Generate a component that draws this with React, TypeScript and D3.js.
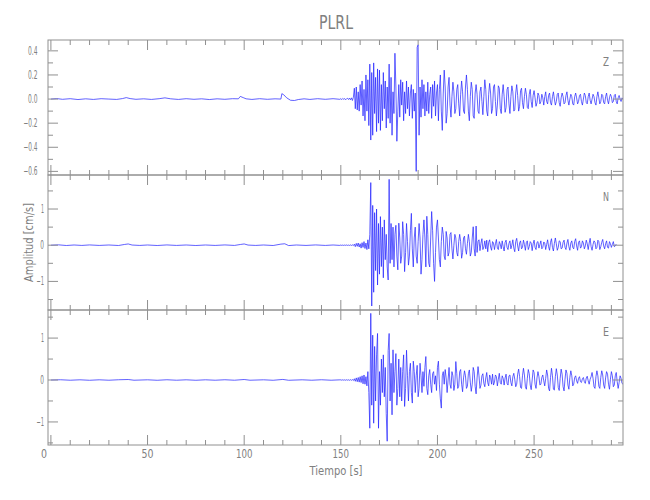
import React from 'react';
import * as d3 from 'd3';

// ---------- data ----------
const TITLE = 'PLRL';
const X_LABEL = 'Tiempo [s]';
const Y_LABEL = 'Amplitud [cm/s]';
const X_MAJOR_TICKS = [0, 50, 100, 150, 200, 250];
const Z_TICKS = [0.4, 0.2, 0.0, -0.2, -0.4, -0.6];
const NE_TICKS = [1, 0, -1];

// samples after t = 150 s, every 0.5 s
const SAMPLE_START = 150;
const SAMPLE_STEP = 0.5;

// pre-event [time, value] readings
const Z_PRE: [number, number][] = [
  [0, 0], [3, 0.004], [6, -0.002], [10, 0.003], [14, -0.004], [18, 0.002], [22, -0.003], [26, 0.003],
  [30, 0.0], [34, -0.003], [37, 0.004], [39, 0.012], [41, 0.004], [44, -0.002], [48, 0.002], [52, -0.003],
  [56, 0.003], [59, 0.01], [62, 0.002], [66, -0.003], [70, 0.003], [74, -0.002], [78, 0.002], [82, -0.004],
  [86, 0.002], [90, -0.002], [94, 0.003], [97, 0.002], [98, 0.022], [99.5, 0.012], [101, 0.002], [104, -0.003],
  [108, 0.003], [112, -0.002], [116, 0.002], [119, 0.0], [119.5, 0.045], [120.5, 0.035], [122, 0.01],
  [124, -0.01], [126, -0.012], [128, -0.004], [131, 0.002], [134, -0.003], [138, 0.003], [142, -0.002],
  [146, 0.003], [149.5, -0.002],
];
const N_PRE: [number, number][] = [
  [0, 0], [4, 0.01], [8, -0.008], [12, 0.006], [16, -0.006], [20, 0.008], [25, -0.006], [30, 0.006],
  [35, -0.008], [38, 0.02], [40, 0.035], [42, 0.005], [46, -0.006], [50, 0.006], [55, -0.008], [60, 0.008],
  [65, -0.006], [70, 0.006], [75, -0.008], [80, 0.006], [85, -0.006], [90, 0.008], [95, -0.006], [98, 0.02],
  [100, 0.035], [102, 0.004], [106, -0.006], [110, 0.006], [115, -0.008], [119, 0.03], [121, 0.04],
  [123, -0.01], [127, 0.006], [132, -0.006], [137, 0.008], [142, -0.006], [146, 0.006], [149.5, -0.005],
];
const E_PRE: [number, number][] = [
  [0, 0], [5, 0.006], [10, -0.005], [15, 0.005], [20, -0.006], [25, 0.005], [30, -0.005], [35, 0.006],
  [40, 0.012], [43, -0.005], [50, 0.005], [55, -0.006], [60, 0.006], [65, -0.005], [70, 0.005], [75, -0.006],
  [80, 0.005], [85, -0.005], [90, 0.006], [95, -0.005], [100, 0.012], [103, -0.005], [110, 0.005],
  [115, -0.006], [120, 0.014], [123, -0.006], [130, 0.005], [135, -0.005], [140, 0.006], [145, -0.005],
  [149.5, 0.004],
];

const Z_VALUES = [
  0.003, -0.004, 0.005, -0.002, 0.004, -0.006, 0.003, 0.006, -0.004, 0.008, -0.006, 0.01, -0.012, 0.015,
  0.09, -0.08, 0.1, -0.09, 0.06, -0.1,
  0.12, -0.05, 0.15, -0.14, 0.08, -0.18, 0.2, -0.1, 0.16, -0.22,
  0.29, -0.34, 0.22, -0.3, 0.3, -0.12, 0.18, -0.27, 0.25, -0.2,
  0.24, -0.26, 0.12, -0.18, 0.22, -0.08, 0.15, -0.24, 0.1, -0.16,
  0.29, -0.2, 0.18, -0.3, 0.06, -0.12, 0.38, 0.1, -0.35, -0.1,
  0.12, -0.15, 0.16, -0.05, 0.14, -0.18, 0.06, -0.12, 0.15, -0.08,
  0.1, -0.14, 0.05, 0.12, -0.16, 0.08, -0.1, 0.05, -0.6, 0.43,
  0.45, -0.3, 0.1, -0.15, 0.16, -0.08, 0.12, -0.14, 0.06, -0.1,
  0.14, -0.12, 0.04, 0.1, -0.16, 0.12, -0.06, 0.15, -0.14, 0.05,
  0.12, -0.18, 0.08, 0.2, -0.1, -0.26, 0.05, 0.24, 0.1, -0.2,
  -0.12, 0.1, 0.18, -0.05, -0.15, 0.02, 0.14, 0.06, -0.12, -0.08,
  0.08, 0.12, -0.04, -0.14, 0.04, 0.15, 0.06, -0.1, -0.12, 0.1,
  0.2, 0.08, -0.1, -0.18, 0.02, 0.14, 0.08, -0.14, -0.16, 0.05,
  0.12, 0.04, -0.1, -0.12, 0.06, 0.1, -0.02, -0.13, 0.02, 0.16,
  0.08, -0.1, -0.14, 0.04, 0.13, 0.05, -0.12, -0.08, 0.1, 0.12,
  -0.02, -0.14, -0.05, 0.11, 0.09, -0.08, -0.12, 0.04, 0.12, 0.02,
  -0.11, -0.07, 0.08, 0.1, -0.04, -0.12, 0.02, 0.11, 0.06, -0.1,
  -0.09, 0.05, 0.12, 0.03, -0.1, -0.06, 0.07, 0.09, -0.03, -0.08,
  0.02, 0.09, 0.04, -0.07, -0.08, 0.04, 0.08, -0.02, -0.07, 0.03,
  0.07, 0.01, -0.06, -0.03, 0.05, 0.03, -0.04, -0.02, 0.04, 0.01,
  -0.05, 0.02, 0.06, -0.02, -0.04, 0.03, 0.05, -0.03, -0.05, 0.02,
  0.06, 0.0, -0.05, -0.02, 0.04, 0.05, -0.03, -0.06, 0.01, 0.05,
  0.02, -0.04, -0.03, 0.03, 0.06, -0.01, -0.05, 0.0, 0.04, 0.02,
  -0.04, -0.05, 0.02, 0.05, 0.01, -0.04, -0.02, 0.03, 0.04, -0.02,
  -0.05, 0.0, 0.05, 0.03, -0.03, -0.04, 0.02, 0.05, -0.01, -0.04,
  0.0, 0.04, 0.02, -0.03, -0.05, 0.02, 0.06, 0.01, -0.04, -0.02,
  0.04, 0.03, -0.03, -0.04, 0.02, 0.05, -0.01, -0.04, 0.01, 0.04,
  0.02, -0.03, -0.02, 0.03, 0.04, -0.02, -0.04, 0.01, 0.03, 0.0,
  -0.02, 0.01, 0.0,
];

const N_VALUES = [
  0.005, -0.005, 0.004, -0.006, 0.005, -0.004, 0.006, -0.005, 0.004, -0.006, 0.008, -0.007, 0.01, -0.01,
  0.03, -0.04, 0.05, -0.03, 0.06, -0.05,
  0.04, -0.08, 0.07, -0.06, 0.1, -0.09, 0.06, -0.12, 0.15, -0.1,
  0.3, 1.73, -1.68, 1.1, -1.3, 0.9, -0.7, 1.0, -1.1, 0.6,
  -0.8, 0.79, -0.59, 0.5, -0.9, 0.7, -0.4, 0.3, -0.6, -0.96,
  1.82, -0.5, 0.6, -0.4, 0.5, -0.6, 0.3, 0.55, -0.3, -0.68,
  0.61, 0.2, -0.5, -0.3, 0.65, 0.3, -0.73, -0.2, 0.6, 0.1,
  -0.55, -0.3, 0.4, 0.88, -0.1, -0.6, 0.2, 0.5, -0.3, -0.5,
  0.1, 0.6, 0.2, -0.8, -0.4, 0.3, 0.7, 0.2, -0.6, 0.8,
  0.3, -0.5, -0.6, 0.2, 0.93, 0.4, -0.5, -1.0, -0.2, 0.5,
  0.7, 0.2, -0.4, -0.6, 0.1, 0.5, 0.3, -0.3, -0.4, 0.38,
  0.2, -0.3, -0.2, 0.3, 0.35, -0.1, -0.38, 0.0, 0.3, 0.2,
  -0.2, -0.3, 0.1, 0.3, 0.1, -0.36, -0.2, 0.2, 0.25, -0.1,
  -0.25, 0.05, 0.3, 0.1, -0.3, -0.2, 0.2, 0.51, -0.1, -0.3,
  0.53, -0.2, 0.1, 0.15, -0.15, 0.05, 0.18, -0.12, -0.05, 0.12,
  -0.1, 0.14, -0.18, 0.08, 0.15, -0.05, -0.14, 0.1, 0.06, -0.12,
  0.04, 0.16, -0.08, -0.12, 0.1, 0.03, -0.1, 0.12, -0.04, -0.16,
  0.08, 0.14, -0.06, -0.12, 0.05, 0.12, -0.1, 0.0, 0.15, -0.08,
  -0.18, 0.1, 0.19, -0.02, -0.16, 0.06, 0.12, -0.1, -0.06, 0.14,
  0.02, -0.14, 0.08, 0.12, -0.12, -0.04, 0.1, 0.06, -0.15, 0.04,
  0.14, -0.06, -0.12, 0.08, 0.1, -0.08, 0.02, 0.12, -0.1, -0.06,
  0.09, 0.06, -0.12, 0.02, 0.15, -0.04, -0.14, 0.08, 0.18, -0.06,
  -0.16, 0.05, 0.2, 0.04, -0.14, -0.06, 0.12, 0.1, -0.1, -0.08,
  0.08, 0.14, -0.06, -0.12, 0.06, 0.16, -0.04, -0.14, 0.06, 0.12,
  -0.06, -0.1, 0.1, 0.18, -0.02, -0.14, 0.08, 0.12, -0.08, -0.04,
  0.12, 0.06, -0.1, -0.02, 0.14, 0.04, -0.12, 0.06, 0.19, -0.04,
  -0.14, 0.02, 0.12, 0.08, -0.1, -0.06, 0.14, 0.1, -0.12, -0.04,
  0.08, 0.16, -0.02, -0.1, 0.04, 0.12, -0.06, -0.08, 0.1, 0.04,
  -0.06, 0.02, 0.1, -0.04, -0.02, 0.03,
];

const E_VALUES = [
  0.004, -0.004, 0.005, -0.003, 0.004, -0.005, 0.006, -0.004, 0.005, -0.006, 0.008, -0.006, 0.01, -0.012,
  0.03, -0.03, 0.05, -0.04, 0.06, -0.05,
  0.08, -0.06, 0.1, -0.09, 0.12, -0.1, 0.08, -0.14, 0.2, -0.3,
  -1.15, 1.59, -0.6, 1.07, -1.03, 0.8, -0.5, 0.6, 1.11, -1.15,
  0.2, -0.6, 0.5, -0.3, 0.6, -0.4, 0.3, -0.8, -1.46, 0.7,
  1.11, -0.5, 0.4, -0.83, 0.72, -0.3, 0.2, 0.63, -0.6, -0.2,
  0.5, -0.4, 0.3, -0.5, 0.2, 0.6, -0.63, -0.2, 0.71, 0.1,
  -0.5, 0.2, 0.4, -0.3, -0.55, 0.45, 0.2, -0.3, 0.1, 0.35,
  -0.4, -0.2, 0.4, 0.1, -0.3, 0.2, -0.15, 0.3, 0.56, -0.2,
  -0.35, 0.1, 0.25, -0.1, -0.3, 0.15, 0.2, -0.1, 0.1, -0.25,
  0.3, 0.45, -0.1, -0.45, -0.67, 0.1, 0.2, -0.1, 0.25, 0.05,
  -0.3, 0.0, 0.3, -0.1, -0.2, 0.2, 0.1, -0.25, -0.1, 0.44,
  0.15, -0.2, -0.15, 0.2, 0.25, -0.1, -0.28, 0.05, 0.22, 0.1,
  -0.2, -0.15, 0.15, 0.24, -0.05, -0.27, -0.1, 0.3, 0.2, -0.15,
  -0.33, 0.05, 0.32, 0.1, -0.2, -0.12, 0.1, 0.15, -0.08, -0.16,
  0.05, 0.18, -0.06, -0.14, 0.12, 0.06, -0.1, 0.14, -0.12, -0.05,
  0.12, 0.08, -0.14, 0.02, 0.16, -0.06, -0.1, 0.1, 0.04, -0.12,
  0.05, 0.14, -0.08, -0.12, 0.1, 0.12, -0.06, -0.14, 0.08, 0.16,
  0.02, -0.16, -0.1, 0.14, 0.26, 0.08, -0.18, -0.2, 0.1, 0.28,
  0.12, -0.16, -0.22, 0.04, 0.25, 0.15, -0.12, -0.23, 0.0, 0.24,
  0.18, -0.1, -0.2, 0.05, 0.2, 0.08, -0.12, -0.1, 0.06, 0.12,
  -0.02, -0.14, 0.04, 0.24, 0.12, -0.2, -0.26, 0.06, 0.28, 0.1,
  -0.22, -0.24, 0.08, 0.27, 0.12, -0.18, -0.25, 0.04, 0.26, 0.14,
  -0.16, -0.26, 0.02, 0.24, 0.16, -0.12, -0.22, 0.06, 0.22, 0.1,
  -0.14, -0.1, 0.06, 0.1, -0.02, -0.08, 0.04, 0.08, -0.04, -0.06,
  0.03, 0.06, -0.04, -0.08, 0.05, 0.09, -0.02, -0.1, 0.02, 0.08,
  0.18, 0.04, -0.16, -0.2, 0.08, 0.22, 0.1, -0.15, -0.2, 0.06,
  0.22, 0.12, -0.12, -0.2, 0.05, 0.2, 0.14, -0.1, -0.22, 0.02,
  0.2, 0.1, -0.16, -0.12, 0.1, 0.18, -0.04, -0.2, -0.06, 0.1,
  0.04, -0.08, -0.1,
];

// ---------- layout ----------
const W = 650;
const H = 500;
const LEFT = 48;
const RIGHT = 623;
const PANEL_TOPS = [40, 175, 310];
const PANEL_H = 135;
const AXIS_COLOR = '#909090';
const TEXT_COLOR = '#808080';
const TRACE_COLOR = '#2424ff';
const FONT = "'Liberation Sans Narrow', 'DejaVu Sans', 'Roboto', sans-serif";

// approximate rendered widths of the narrow stroke font used in the reference
function yLabelWidth(s: string) {
  let w = 0;
  for (const c of s) w += c === '.' ? 2.1 : c === '−' || c === '-' ? 4.6 : c === '1' ? 3 : 3.7;
  return w;
}
function xLabelWidth(s: string) {
  let w = 0;
  for (const c of s) w += c === '1' ? 4.5 : 6;
  return w;
}

type Panel = {
  name: string;
  pre: [number, number][];
  values: number[];
  domain: [number, number];
  ticks: number[];
  minorStep: number;
  fmt: (v: number) => string;
  labelEnd: number;
};

const PANELS: Panel[] = [
  { name: 'Z', pre: Z_PRE, values: Z_VALUES, domain: [-0.63, 0.49], ticks: Z_TICKS, minorStep: 0.1, fmt: d3.format('.1f'), labelEnd: 37.5 },
  { name: 'N', pre: N_PRE, values: N_VALUES, domain: [-1.79, 1.94], ticks: NE_TICKS, minorStep: 0.5, fmt: d3.format('d'), labelEnd: 44 },
  { name: 'E', pre: E_PRE, values: E_VALUES, domain: [-1.55, 1.67], ticks: NE_TICKS, minorStep: 0.5, fmt: d3.format('d'), labelEnd: 44 },
];

const x = d3.scaleLinear().domain([-1.5, 296]).range([LEFT, RIGHT]);

function PanelView({ p, top, isLast }: { p: Panel; top: number; isLast: boolean }) {
  const y = d3.scaleLinear().domain(p.domain).range([top + PANEL_H, top]);
  const pts: [number, number][] = [
    ...p.pre,
    ...p.values.map((v, i) => [SAMPLE_START + i * SAMPLE_STEP, v] as [number, number]),
  ];
  const line = d3
    .line<[number, number]>()
    .x((d) => x(d[0]))
    .y((d) => y(d[1]));
  const xMinor = d3.range(0, 296, 10);
  const yMinor = d3
    .range(Math.ceil(p.domain[0] / p.minorStep), Math.floor(p.domain[1] / p.minorStep) + 1)
    .map((k) => +(k * p.minorStep).toFixed(3));
  const bottom = top + PANEL_H;
  const clipId = `clip-${p.name}`;
  return (
    <g>
      <defs>
        <clipPath id={clipId}>
          <rect x={LEFT} y={top} width={RIGHT - LEFT} height={PANEL_H} />
        </clipPath>
      </defs>
      <path d={line(pts) || ''} fill="none" stroke={TRACE_COLOR} strokeWidth={0.8} strokeOpacity={0.9} clipPath={`url(#${clipId})`} />
      <rect x={LEFT} y={top} width={RIGHT - LEFT} height={PANEL_H} fill="none" stroke={AXIS_COLOR} strokeWidth={1} />
      {xMinor.map((t) => {
        const major = t % 50 === 0;
        const len = major ? 10 : 5;
        return (
          <g key={`xt${t}`} stroke={AXIS_COLOR} strokeWidth={1}>
            <line x1={x(t)} x2={x(t)} y1={top} y2={top + len} />
            <line x1={x(t)} x2={x(t)} y1={bottom} y2={bottom - len} />
          </g>
        );
      })}
      {yMinor.map((v) => {
        const major = p.ticks.some((t) => Math.abs(t - v) < 1e-6);
        const len = major ? 10 : 5;
        return (
          <g key={`yt${v}`} stroke={AXIS_COLOR} strokeWidth={1}>
            <line x1={LEFT} x2={LEFT + len} y1={y(v)} y2={y(v)} />
            <line x1={RIGHT} x2={RIGHT - len} y1={y(v)} y2={y(v)} />
          </g>
        );
      })}
      {p.ticks.map((v) => {
        const s = p.fmt(v);
        return (
          <text
            key={`yl${v}`}
            x={p.labelEnd}
            y={y(v) + 4}
            textAnchor="end"
            fontSize={11.5}
            fill={TEXT_COLOR}
            fontFamily={FONT}
            textLength={yLabelWidth(s)}
            lengthAdjust="spacingAndGlyphs"
          >
            {s}
          </text>
        );
      })}
      <text x={606} y={top + 26} textAnchor="middle" fontSize={12} fill={TEXT_COLOR} fontFamily={FONT} textLength={6} lengthAdjust="spacingAndGlyphs">
        {p.name}
      </text>
      {isLast &&
        X_MAJOR_TICKS.map((t, i) => {
          const s = String(t);
          return (
            <text
              key={`xl${t}`}
              x={x(t) - (i === 0 ? 7 : 0)}
              y={bottom + 13}
              textAnchor="middle"
              fontSize={12.5}
              fill={TEXT_COLOR}
              fontFamily={FONT}
              textLength={xLabelWidth(s)}
              lengthAdjust="spacingAndGlyphs"
            >
              {s}
            </text>
          );
        })}
    </g>
  );
}

export default function App() {
  return (
    <svg width={W} height={H} viewBox={`0 0 ${W} ${H}`} style={{ position: 'absolute', left: 0, top: 0, background: '#fff' }}>
      <rect x={0} y={0} width={W} height={H} fill="#fff" />
      <text x={336} y={29} textAnchor="middle" fontSize={20} fill={TEXT_COLOR} fontFamily={FONT} textLength={34} lengthAdjust="spacingAndGlyphs">
        {TITLE}
      </text>
      {PANELS.map((p, i) => (
        <PanelView key={p.name} p={p} top={PANEL_TOPS[i]} isLast={i === PANELS.length - 1} />
      ))}
      <text x={336} y={475} textAnchor="middle" fontSize={13} fill={TEXT_COLOR} fontFamily={FONT} textLength={53} lengthAdjust="spacingAndGlyphs">
        {X_LABEL}
      </text>
      <text
        transform={`translate(33, 242.5) rotate(-90)`}
        textAnchor="middle"
        fontSize={13}
        fill={TEXT_COLOR}
        fontFamily={FONT}
        textLength={79}
        lengthAdjust="spacingAndGlyphs"
      >
        {Y_LABEL}
      </text>
    </svg>
  );
}
